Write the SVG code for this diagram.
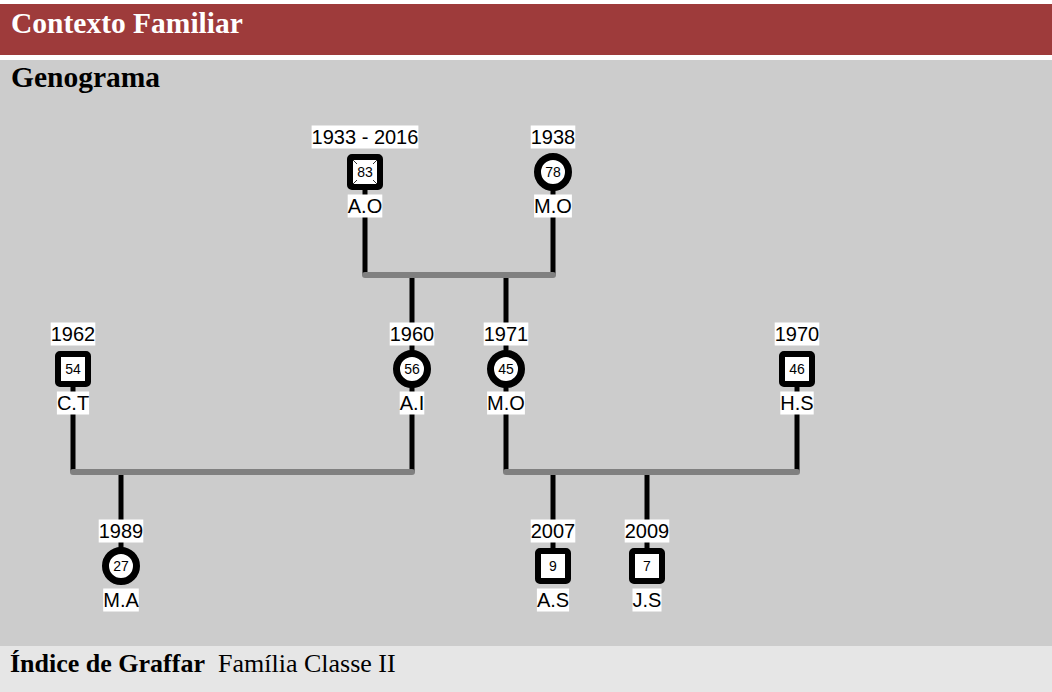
<svg xmlns="http://www.w3.org/2000/svg" width="1052" height="692" viewBox="0 0 1052 692">
<style>
.hdr{font-family:"Liberation Serif","Times New Roman",serif;font-weight:bold;font-size:29.5px}
.ftr{font-family:"Liberation Serif","Times New Roman",serif;font-size:26px}
.lbl{font-family:"Liberation Sans",Arial,sans-serif;font-size:20px;text-anchor:middle;fill:#000}
.num{font-family:"Liberation Sans",Arial,sans-serif;font-size:14px;text-anchor:middle;fill:#000}
.bg{fill:#fff}
.v{stroke:#000;stroke-width:5;fill:none}
.h{stroke:#808080;stroke-width:6;stroke-linecap:round;fill:none}
.sq{fill:#fff;stroke:#000;stroke-width:6}
.ci{fill:#fff;stroke:#000;stroke-width:7}
</style>
<rect x="0" y="0" width="1052" height="692" fill="#fff"/>
<rect x="0" y="4" width="1052" height="51" fill="#9e3b3b"/>
<rect x="0" y="60" width="1052" height="586" fill="#cccccc"/>
<rect x="0" y="646" width="1052" height="46" fill="#e6e6e6"/>
<text class="hdr" x="11" y="33" fill="#fff">Contexto Familiar</text>
<text class="hdr" x="11" y="87" fill="#000">Genograma</text>
<text class="ftr" x="10" y="672" font-weight="bold">Índice de Graffar</text>
<text class="ftr" x="218" y="672">Família Classe II</text>

<g id="connectors">
<line class="v" x1="365" y1="172" x2="365" y2="275"/>
<line class="v" x1="553" y1="172" x2="553" y2="275"/>
<line class="v" x1="412" y1="275" x2="412" y2="369"/>
<line class="v" x1="506" y1="275" x2="506" y2="369"/>
<line class="v" x1="73" y1="369" x2="73" y2="472"/>
<line class="v" x1="412" y1="369" x2="412" y2="472"/>
<line class="v" x1="506" y1="369" x2="506" y2="472"/>
<line class="v" x1="797" y1="369" x2="797" y2="472"/>
<line class="v" x1="121" y1="472" x2="121" y2="566"/>
<line class="v" x1="553" y1="472" x2="553" y2="566"/>
<line class="v" x1="647" y1="472" x2="647" y2="566"/>
<line class="h" x1="365" y1="275" x2="553" y2="275"/>
<line class="h" x1="73" y1="472" x2="412" y2="472"/>
<line class="h" x1="506" y1="472" x2="797" y2="472"/>
</g>

<g id="AO">
<rect class="bg" x="311.6" y="125.5" width="106.8" height="23"/>
<text class="lbl" x="365" y="144">1933 - 2016</text>
<rect class="sq" x="350" y="157" width="30" height="30" rx="2"/>
<line x1="353" y1="160" x2="377" y2="184" stroke="#333" stroke-width="1"/>
<line x1="377" y1="160" x2="353" y2="184" stroke="#333" stroke-width="1"/>
<rect class="bg" x="357" y="164" width="16" height="16"/>
<text class="num" x="365" y="177">83</text>
<rect class="bg" x="347.7" y="194.5" width="34.6" height="23"/>
<text class="lbl" x="365" y="213">A.O</text>
</g>

<g id="MO1">
<rect class="bg" x="530.7" y="125.5" width="44.6" height="23"/>
<text class="lbl" x="553" y="144">1938</text>
<circle class="ci" cx="553" cy="172" r="15.5"/>
<text class="num" x="553" y="177">78</text>
<rect class="bg" x="534.1" y="194.5" width="37.8" height="23"/>
<text class="lbl" x="553" y="213">M.O</text>
</g>

<g id="CT">
<rect class="bg" x="50.7" y="322.5" width="44.6" height="23"/>
<text class="lbl" x="73" y="341">1962</text>
<rect class="sq" x="58" y="354" width="30" height="30" rx="2"/>
<text class="num" x="73" y="374">54</text>
<rect class="bg" x="56.9" y="391.5" width="32.2" height="23"/>
<text class="lbl" x="73" y="410">C.T</text>
</g>

<g id="AI">
<rect class="bg" x="389.7" y="322.5" width="44.6" height="23"/>
<text class="lbl" x="412" y="341">1960</text>
<circle class="ci" cx="412" cy="369" r="15.5"/>
<text class="num" x="412" y="374">56</text>
<rect class="bg" x="399.7" y="391.5" width="24.6" height="23"/>
<text class="lbl" x="412" y="410">A.I</text>
</g>

<g id="MO2">
<rect class="bg" x="483.7" y="322.5" width="44.6" height="23"/>
<text class="lbl" x="506" y="341">1971</text>
<circle class="ci" cx="506" cy="369" r="15.5"/>
<text class="num" x="506" y="374">45</text>
<rect class="bg" x="487.1" y="391.5" width="37.8" height="23"/>
<text class="lbl" x="506" y="410">M.O</text>
</g>

<g id="HS">
<rect class="bg" x="774.7" y="322.5" width="44.6" height="23"/>
<text class="lbl" x="797" y="341">1970</text>
<rect class="sq" x="782" y="354" width="30" height="30" rx="2"/>
<text class="num" x="797" y="374">46</text>
<rect class="bg" x="780.3" y="391.5" width="33.4" height="23"/>
<text class="lbl" x="797" y="410">H.S</text>
</g>

<g id="MA">
<rect class="bg" x="98.7" y="519.5" width="44.6" height="23"/>
<text class="lbl" x="121" y="538">1989</text>
<circle class="ci" cx="121" cy="566" r="15.5"/>
<text class="num" x="121" y="571">27</text>
<rect class="bg" x="103.2" y="588.5" width="35.6" height="23"/>
<text class="lbl" x="121" y="607">M.A</text>
</g>

<g id="AS">
<rect class="bg" x="530.7" y="519.5" width="44.6" height="23"/>
<text class="lbl" x="553" y="538">2007</text>
<rect class="sq" x="538" y="551" width="30" height="30" rx="2"/>
<text class="num" x="553" y="571">9</text>
<rect class="bg" x="536.9" y="588.5" width="32.2" height="23"/>
<text class="lbl" x="553" y="607">A.S</text>
</g>

<g id="JS">
<rect class="bg" x="624.7" y="519.5" width="44.6" height="23"/>
<text class="lbl" x="647" y="538">2009</text>
<rect class="sq" x="632" y="551" width="30" height="30" rx="2"/>
<text class="num" x="647" y="571">7</text>
<rect class="bg" x="632.5" y="588.5" width="29" height="23"/>
<text class="lbl" x="647" y="607">J.S</text>
</g>
</svg>
